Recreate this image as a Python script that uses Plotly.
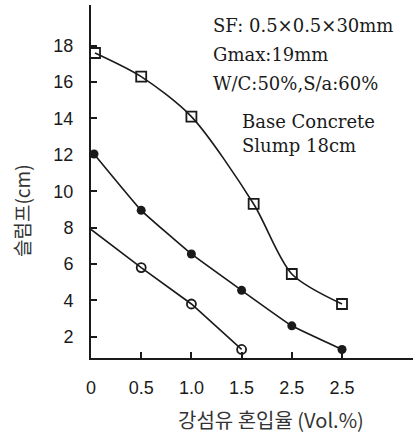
import plotly.graph_objects as go

# ---- data ----
x_ticks = [0, 0.5, 1.0, 1.5, 2.0, 2.5]
x_ticktext = ["0", "0.5", "1.0", "1.5", "2.5", "2.5"]
y_ticks = [2, 4, 6, 8, 10, 12, 14, 16, 18]

top_x = [0.04, 0.5, 1.0, 1.62, 2.0, 2.5]
top_y = [17.6, 16.3, 14.1, 9.3, 5.45, 3.8]

mid_x = [0.03, 0.5, 1.0, 1.5, 2.0, 2.5]
mid_y = [12.05, 8.95, 6.55, 4.55, 2.6, 1.3]

low_line_x = [0.0, 0.5, 1.0, 1.5]
low_line_y = [7.9, 5.8, 3.8, 1.3]
low_mark_x = [0.5, 1.0, 1.5]
low_mark_y = [5.8, 3.8, 1.3]

notes = ["SF: 0.5×0.5×30mm", "Gmax:19mm", "W/C:50%,S/a:60%"]
notes2 = ["Base Concrete", "Slump 18cm"]
x_title = "강섬유 혼입율 (Vol.%)"
y_title = "슬럼프(cm)"

# ---- layout geometry (pixels) ----
W, H = 415, 434
L, R, T, B = 91, 2, 5, 76
PW, PH = W - L - R, H - T - B


def px(xp):
    return (xp - L) / PW


def py(yp):
    return (H - B - yp) / PH


ink = "#1a1a1a"
fig = go.Figure()

fig.add_trace(go.Scatter(
    x=top_x, y=top_y, mode="lines+markers",
    line=dict(color=ink, width=1.6, shape="spline", smoothing=0.8),
    marker=dict(symbol="square-open", size=10, color=ink, line=dict(width=1.8)),
    cliponaxis=False, showlegend=False))

fig.add_trace(go.Scatter(
    x=mid_x, y=mid_y, mode="lines+markers",
    line=dict(color=ink, width=1.6, shape="spline", smoothing=0.3),
    marker=dict(symbol="circle", size=9, color=ink),
    cliponaxis=False, showlegend=False))

fig.add_trace(go.Scatter(
    x=low_line_x, y=low_line_y, mode="lines",
    line=dict(color=ink, width=1.6),
    cliponaxis=False, showlegend=False))
fig.add_trace(go.Scatter(
    x=low_mark_x, y=low_mark_y, mode="markers",
    marker=dict(symbol="circle-open", size=9, color=ink, line=dict(width=1.8)),
    cliponaxis=False, showlegend=False))

annotations = []
note_y = [25, 55, 83]
for t, yy in zip(notes, note_y):
    annotations.append(dict(text=t, x=px(211), y=py(yy), xref="paper", yref="paper",
                            xanchor="left", yanchor="middle", showarrow=False,
                            font=dict(family="DejaVu Serif", size=18, color=ink)))
note2_y = [122, 145]
for t, yy in zip(notes2, note2_y):
    annotations.append(dict(text=t, x=px(240), y=py(yy), xref="paper", yref="paper",
                            xanchor="left", yanchor="middle", showarrow=False,
                            font=dict(family="DejaVu Serif", size=18, color=ink)))

annotations.append(dict(text=x_title, x=px(271), y=py(419), xref="paper", yref="paper",
                        xanchor="center", yanchor="middle", showarrow=False,
                        font=dict(family="Noto Sans CJK KR", size=20, color="#333")))
annotations.append(dict(text=y_title, x=px(21), y=py(211), xref="paper", yref="paper",
                        xanchor="center", yanchor="middle", showarrow=False, textangle=-90,
                        font=dict(family="Noto Sans CJK KR", size=19, color="#333")))

fig.update_layout(
    width=W, height=H,
    margin=dict(l=L, r=R, t=T, b=B),
    paper_bgcolor="white", plot_bgcolor="white",
    annotations=annotations,
    xaxis=dict(range=[0, 3.207], tickvals=x_ticks, ticktext=x_ticktext,
               showgrid=False, zeroline=False, showline=True, linecolor=ink, linewidth=2,
               ticks="inside", ticklen=6, tickwidth=1.5, tickcolor=ink,
               ticklabelstandoff=12,
               tickfont=dict(family="Liberation Sans", size=18, color=ink)),
    yaxis=dict(range=[0.83, 20.24], tickvals=y_ticks,
               showgrid=False, zeroline=False, showline=True, linecolor=ink, linewidth=2,
               ticks="inside", ticklen=6, tickwidth=1.5, tickcolor=ink,
               ticklabelstandoff=12,
               tickfont=dict(family="Liberation Sans", size=18, color=ink)),
)

fig.write_html("out.html", config={"displayModeBar": False},
               post_script="document.body.style.margin='0';document.body.style.overflow='hidden';")
